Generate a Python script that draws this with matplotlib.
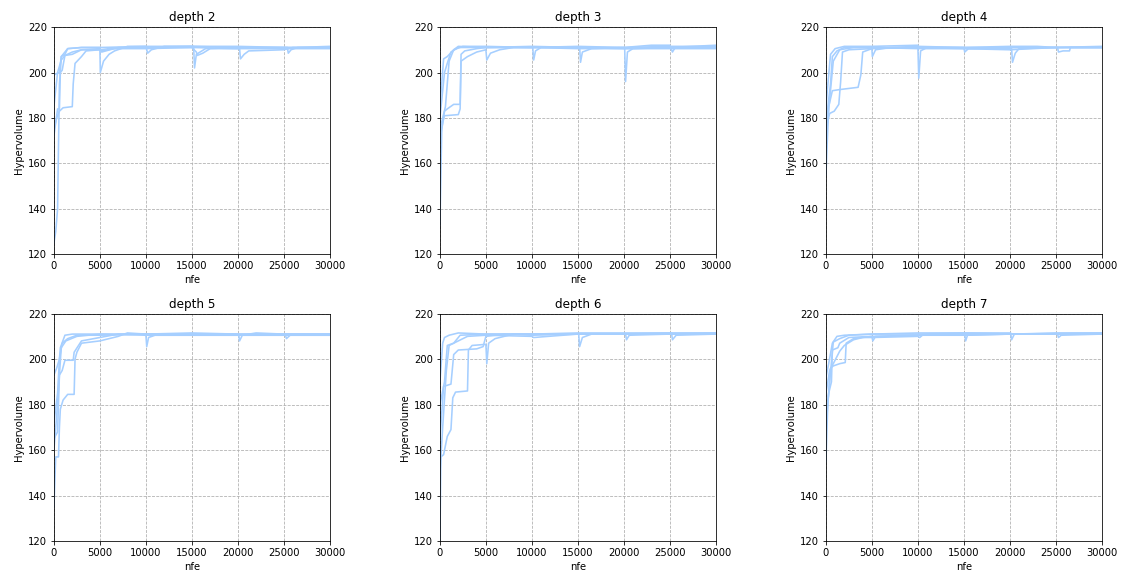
import matplotlib
matplotlib.use('Agg')
import matplotlib.pyplot as plt

# hypervolume convergence, 5 seeds per tree depth; each run is a list of (nfe, hypervolume) points
depths = [2, 3, 4, 5, 6, 7]

depth2_runs = [
    [(0, 125), (200, 130), (400, 140), (600, 195), (700, 200), (800, 207), (1500, 210.5), (3000, 211), (5000, 211),
     (5050, 200), (5400, 205), (6000, 208), (6600, 209.5), (8000, 211.5), (10000, 211.5), (10200, 208.5), (10600, 210),
     (12000, 211.5), (15200, 211.5), (15300, 202), (15500, 208), (16500, 210.5), (20000, 211), (25000, 211), (30000, 211)],
    [(0, 172), (200, 178), (400, 184), (600, 184), (700, 200), (900, 201), (1200, 207.5), (2000, 208), (3000, 210),
     (5000, 210), (5200, 209), (7000, 211), (10000, 211), (15000, 211), (15500, 209), (15600, 207.5), (16200, 208.5),
     (17000, 210.5), (20200, 210.5), (20300, 206), (20700, 208), (21200, 209.5), (25000, 210), (26000, 211), (30000, 211)],
    [(0, 175), (300, 180), (600, 183), (1000, 184.5), (2000, 185), (2100, 195), (2300, 204), (3000, 207), (3500, 209.5),
     (5000, 210), (6000, 210.5), (10000, 211), (15000, 211.5), (20000, 211), (25000, 211), (30000, 211)],
    [(0, 199), (600, 200), (800, 207), (1200, 208), (1500, 210.5), (3000, 211), (5000, 211), (10000, 211.5),
     (15000, 211.5), (20000, 211.5), (25400, 211), (25500, 208.5), (25800, 210), (26500, 211), (30000, 211.5)],
    [(0, 185), (400, 200), (800, 205.5), (1200, 207.5), (2000, 209), (3000, 210), (5000, 210.5), (5200, 209.5),
     (6500, 210.5), (10000, 210.5), (15000, 211), (20000, 210.5), (25000, 210.5), (30000, 210.5)],
]

depth3_runs = [
    [(0, 133), (200, 175), (500, 183), (800, 184), (1500, 186), (2200, 186), (2300, 208), (2700, 209.5), (4000, 210.5),
     (5000, 211), (10000, 211.5), (15000, 211), (20000, 211), (25000, 211.5), (30000, 211.5)],
    [(0, 185), (400, 206), (800, 207), (1500, 210), (2000, 211.5), (5000, 211), (10000, 211), (15000, 211.5),
     (20100, 211), (20200, 196), (20400, 209), (21000, 210.5), (25000, 211), (30000, 211)],
    [(0, 170), (300, 178), (500, 181), (2000, 181.5), (2200, 184), (2300, 205), (3000, 207), (4000, 209), (5000, 210),
     (5100, 205.5), (5500, 208.5), (6500, 210), (8000, 211), (10000, 211), (15000, 210.5), (20000, 210.5), (30000, 210.5)],
    [(0, 180), (500, 200), (800, 204), (1200, 209), (2000, 211), (5000, 211), (10100, 211), (10200, 205.5),
     (10400, 209.5), (11000, 211), (15200, 211), (15300, 204.5), (15500, 209), (16500, 210.5), (20000, 211),
     (23000, 212), (25000, 212), (25300, 209), (25600, 211), (30000, 211.5)],
    [(0, 175), (600, 185), (1000, 205), (1500, 210), (2500, 211.5), (5000, 211.5), (10000, 211), (15000, 211),
     (20000, 210.5), (25000, 211), (30000, 212)],
]

depth4_runs = [
    [(0, 155), (300, 185), (700, 192), (1500, 192.5), (3500, 193.5), (3800, 199), (4000, 209), (5000, 210.5),
     (5050, 207), (5400, 210), (7000, 211), (10000, 211.5), (15000, 211), (20000, 211), (30000, 211)],
    [(0, 185), (500, 208), (1000, 210.5), (2000, 211.5), (5000, 211.5), (10000, 212), (10100, 197.5), (10300, 209.5),
     (11000, 211), (15000, 211), (20000, 211.5), (23000, 211.5), (25000, 211), (30000, 211)],
    [(0, 175), (400, 182), (900, 183), (1400, 186), (1600, 196), (1800, 209), (2500, 210), (5000, 210.5),
     (10000, 211), (15000, 210.5), (20200, 210.5), (20300, 204.5), (20600, 208.5), (21000, 210.5), (25000, 211),
     (30000, 211)],
    [(0, 178), (500, 195), (700, 207), (1200, 209.5), (2000, 211), (5000, 211), (10000, 211), (15000, 211),
     (15100, 209), (15500, 210.5), (20000, 211), (25200, 211), (25300, 209), (25800, 209.5), (26500, 209.5),
     (26600, 211), (30000, 211)],
    [(0, 170), (400, 188), (800, 205), (1500, 210), (3000, 211), (5000, 211), (10000, 210.5), (15000, 210.5),
     (20000, 210), (25000, 211), (30000, 211.5)],
]

depth5_runs = [
    [(0, 135), (200, 157), (500, 157), (600, 170), (700, 178), (1000, 182), (1500, 184.5), (2200, 184.5),
     (2300, 200), (2500, 203), (3000, 207), (4000, 207.5), (5000, 208), (7000, 210), (8000, 211.5), (10000, 211),
     (15000, 211), (20000, 211), (30000, 211)],
    [(0, 193), (300, 196), (600, 200), (700, 205), (1200, 210.5), (2000, 211), (5000, 211), (10000, 211),
     (15000, 211.5), (20000, 211), (25000, 211), (30000, 211)],
    [(0, 165), (400, 168), (600, 193), (900, 195), (1200, 199.5), (2100, 199.5), (2200, 203), (3000, 208),
     (5000, 209.5), (7000, 211), (10000, 211), (10100, 205.5), (10300, 209.5), (11000, 210.5), (15000, 210.5),
     (20000, 210.5), (30000, 210.5)],
    [(0, 172), (400, 185), (600, 200), (900, 207), (1500, 209), (2500, 210.5), (5000, 210.5), (10000, 211),
     (15000, 211), (20100, 211), (20200, 208), (20500, 210.5), (22000, 211.5), (25000, 211), (30000, 211)],
    [(0, 160), (300, 175), (800, 205), (1300, 208), (2500, 210), (5000, 211), (10000, 210.5), (15000, 210.5),
     (20000, 210.5), (25200, 210.5), (25300, 209), (25700, 210.5), (30000, 210.5)],
]

depth6_runs = [
    [(0, 120), (100, 157), (400, 158), (800, 166), (1200, 169), (1400, 183), (1700, 185.5), (3000, 186),
     (3100, 204), (3500, 206), (5000, 206.5), (5100, 198), (5300, 207), (6000, 209), (8000, 211), (10000, 211),
     (15000, 211), (20000, 211), (30000, 211.5)],
    [(0, 190), (300, 207), (500, 209.5), (1000, 210.5), (2000, 211.5), (5000, 211), (10000, 211), (15000, 211.5),
     (20000, 211.5), (25000, 211.5), (30000, 211.5)],
    [(0, 165), (400, 188), (800, 188.5), (1200, 189), (1500, 202), (2000, 204), (4000, 204.5), (4700, 205.5),
     (5000, 210), (7000, 211), (10000, 210.5), (15100, 211), (15200, 205.5), (15500, 209.5), (16500, 211),
     (20000, 211), (30000, 211)],
    [(0, 180), (500, 190), (800, 206), (1500, 207), (2200, 210.5), (5000, 211), (10000, 211), (15000, 211),
     (20200, 211), (20300, 208.5), (20600, 210.5), (25000, 211), (30000, 211)],
    [(0, 150), (300, 170), (700, 195), (1000, 206), (1500, 207), (3000, 210), (5000, 210.5), (10000, 210),
     (10200, 209.5), (15000, 211), (20000, 211), (25200, 211.5), (25300, 208.5), (25700, 210.5), (30000, 211)],
]

depth7_runs = [
    [(0, 155), (200, 180), (500, 196), (800, 197), (1500, 198), (2100, 198.5), (2200, 207), (3000, 209),
     (5000, 210), (10000, 210.5), (15000, 211), (20000, 211), (30000, 211.5)],
    [(0, 192), (300, 198), (700, 207), (1200, 210), (2000, 210.5), (5000, 211), (10000, 211.5), (15000, 211.5),
     (20100, 211.5), (20200, 208.5), (20500, 211), (25000, 211.5), (30000, 211.5)],
    [(0, 175), (300, 185), (600, 190), (700, 204), (1300, 205), (1500, 207), (2500, 209.5), (5000, 210),
     (5100, 208), (5400, 210), (10000, 210.5), (15100, 211), (15200, 208), (15400, 210.5), (20000, 211),
     (25200, 211), (25300, 209.5), (25600, 210.5), (30000, 211)],
    [(0, 185), (400, 195), (800, 198), (1500, 203.5), (2000, 206), (3000, 208.5), (4000, 209.5), (5000, 209.5),
     (10000, 210), (10200, 209.5), (10500, 210.5), (15000, 210.5), (20000, 211), (30000, 211)],
    [(0, 170), (400, 190), (800, 207.5), (1500, 209), (2500, 210.5), (5000, 211), (10000, 211), (15000, 211.5),
     (20000, 211), (25000, 211), (30000, 211)],
]

all_runs = [depth2_runs, depth3_runs, depth4_runs, depth5_runs, depth6_runs, depth7_runs]

line_color = '#a6cfff'

fig, axes = plt.subplots(2, 3, figsize=(1123 / 72, 575 / 72), dpi=72)
fig.subplots_adjust(left=0.048, right=0.981, top=0.953, bottom=0.059, wspace=0.40, hspace=0.26)

for ax, depth, runs in zip(axes.flat, depths, all_runs):
    for run in runs:
        nfe = [p[0] for p in run]
        hv = [p[1] for p in run]
        ax.plot(nfe, hv, color=line_color, linewidth=1.6)
    ax.set_xlim(0, 30000)
    ax.set_ylim(120, 220)
    ax.set_xticks([0, 5000, 10000, 15000, 20000, 25000, 30000])
    ax.grid(True, linestyle='--', color='#b0b0b0', linewidth=0.8)
    ax.set_title('depth %d' % depth)
    ax.set_xlabel('nfe')
    ax.set_ylabel('Hypervolume')

fig.savefig('out.png', dpi=72)
